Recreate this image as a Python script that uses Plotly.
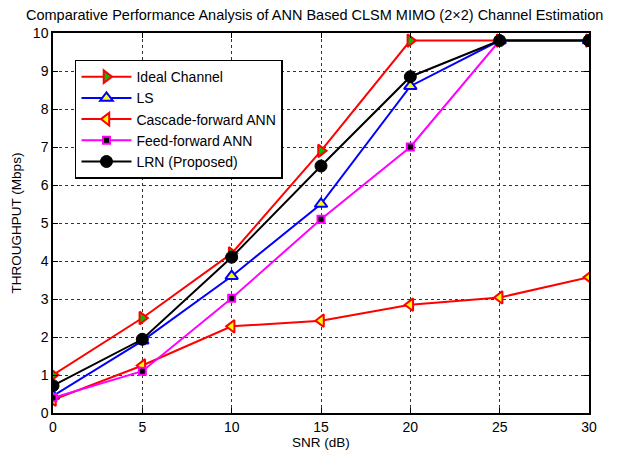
import plotly.graph_objects as go

snr = [0, 5, 10, 15, 20, 25, 30]
ideal = [1.0, 2.5, 4.2, 6.9, 9.8, 9.8, 9.8]
ls = [0.45, 1.9, 3.6, 5.5, 8.6, 9.8, 9.8]
cascade = [0.35, 1.25, 2.28, 2.43, 2.85, 3.04, 3.57]
feed = [0.4, 1.1, 3.02, 5.1, 7.0, 9.8, 9.8]
lrn = [0.72, 1.94, 4.1, 6.5, 8.85, 9.8, 9.8]

FONT = "Liberation Sans, Arial, sans-serif"

fig = go.Figure()
fig.add_trace(go.Scatter(
    x=snr, y=ideal, name="Ideal Channel", mode="lines+markers",
    line=dict(color="#ff0000", width=2),
    marker=dict(symbol="triangle-right", size=11, color="#00c000",
                line=dict(color="#ff0000", width=2))))
fig.add_trace(go.Scatter(
    x=snr, y=ls, name="LS", mode="lines+markers",
    line=dict(color="#0000ff", width=2),
    marker=dict(symbol="triangle-up", size=11, color="#ffff00",
                line=dict(color="#0000ff", width=2))))
fig.add_trace(go.Scatter(
    x=snr, y=cascade, name="Cascade-forward ANN", mode="lines+markers",
    line=dict(color="#ff0000", width=2),
    marker=dict(symbol="triangle-left", size=11, color="#ffff00",
                line=dict(color="#ff0000", width=2))))
fig.add_trace(go.Scatter(
    x=snr, y=feed, name="Feed-forward ANN", mode="lines+markers",
    line=dict(color="#ff00ff", width=2),
    marker=dict(symbol="square", size=7, color="#000000",
                line=dict(color="#ff00ff", width=2))))
fig.add_trace(go.Scatter(
    x=snr, y=lrn, name="LRN (Proposed)", mode="lines+markers",
    line=dict(color="#000000", width=2),
    marker=dict(symbol="circle", size=12, color="#000000",
                line=dict(color="#000000", width=1))))

axis_common = dict(
    showline=True, linecolor="black", linewidth=1.5, mirror="allticks",
    ticks="inside", ticklen=5, tickcolor="black", automargin=False,
    showgrid=True, gridcolor="#333333", griddash="dot", gridwidth=1,
    zeroline=False, tickfont=dict(family=FONT, size=14, color="black"),
)

fig.update_layout(
    width=617, height=452,
    margin=dict(l=53, r=28, t=33, b=39),
    paper_bgcolor="white", plot_bgcolor="white",
    title=dict(text="Comparative Performance Analysis of ANN Based CLSM MIMO (2×2) Channel Estimation",
               x=0.51, xanchor="center", y=0.978, yanchor="top",
               font=dict(family=FONT, size=14.5, color="black")),
    xaxis=dict(range=[0, 30], tickvals=[0, 5, 10, 15, 20, 25, 30],
               title=dict(text="SNR (dB)", font=dict(family=FONT, size=13.5, color="black"), standoff=0),
               **axis_common),
    yaxis=dict(range=[0, 10], tickvals=list(range(0, 11)),
               title=dict(text="THROUGHPUT (Mbps)", font=dict(family=FONT, size=13.5, color="black"), standoff=8),
               **axis_common),
    legend=dict(x=0.041, y=0.93, xanchor="left", yanchor="top",
                bgcolor="white", bordercolor="black", borderwidth=1.5,
                font=dict(family=FONT, size=14, color="black"),
                tracegroupgap=0, itemwidth=50),
    showlegend=True,
)

fig.write_html("out.html")
